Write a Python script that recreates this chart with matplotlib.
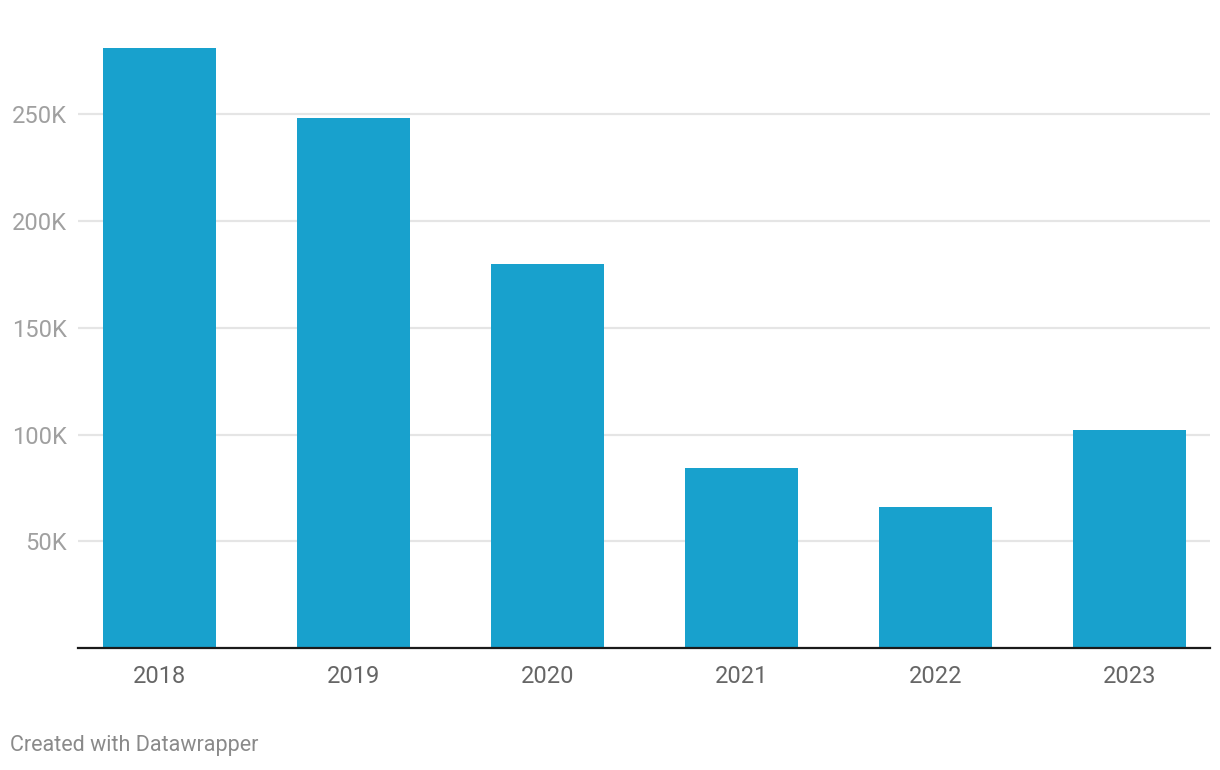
import matplotlib.pyplot as plt
from matplotlib.ticker import FuncFormatter

plt.rcParams['font.family'] = ['Roboto', 'DejaVu Sans']

years = ['2018', '2019', '2020', '2021', '2022', '2023']
values = [281000, 248500, 179800, 84300, 66000, 102100]
yticks = [50000, 100000, 150000, 200000, 250000]

fig = plt.figure(figsize=(12.2, 7.7), dpi=100)
ax = fig.add_axes([78 / 1220, 1 - 648 / 770, 1132 / 1220, 619 / 770])

x = range(len(years))
ax.bar(x, values, width=0.582, color='#18a1cd', zorder=2)

ax.set_xlim(-0.42, len(years) - 1 + 0.415)
ax.set_ylim(0, 290000)
ax.set_yticks(yticks)
ax.yaxis.set_major_formatter(FuncFormatter(lambda v, p: f'{int(v / 1000)}K'))
ax.set_xticks(list(x))
ax.set_xticklabels(years)

ax.grid(axis='y', color='#e5e5e5', linewidth=1.6, zorder=0)
for s in ['top', 'right', 'left']:
    ax.spines[s].set_visible(False)
ax.spines['bottom'].set_color('#1a1a1a')
ax.spines['bottom'].set_linewidth(1.6)
ax.spines['bottom'].set_zorder(3)

ax.tick_params(axis='y', length=0, pad=8, labelsize=17, labelcolor='#a0a0a0')
ax.tick_params(axis='x', length=0, pad=12, labelsize=17, labelcolor='#666666')

fig.text(10 / 1220, 1 - 746 / 770, 'Created with Datawrapper', fontsize=15.5,
         color='#8a8a8a', va='center', ha='left')

fig.savefig('out.png', dpi=100)
